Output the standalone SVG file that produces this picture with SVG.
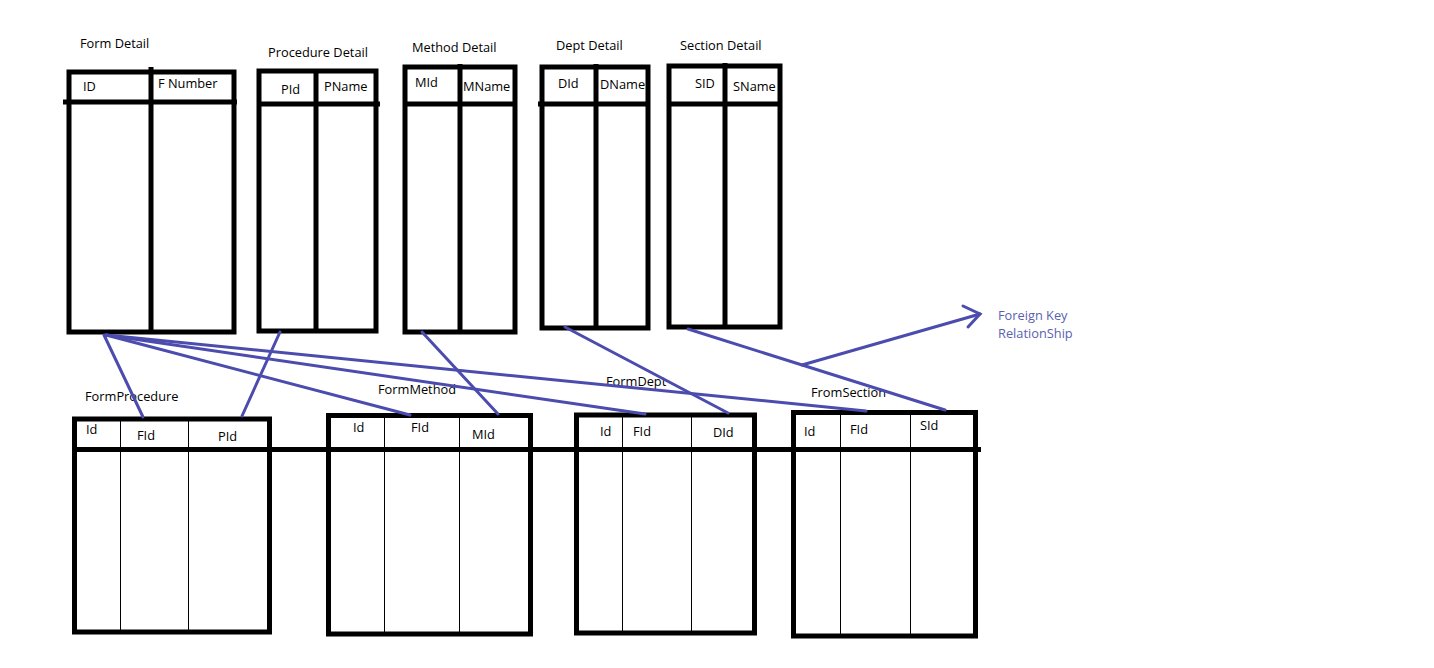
<svg xmlns="http://www.w3.org/2000/svg" width="1434" height="668" viewBox="0 0 1434 668">
<style>
.box{fill:none;stroke:#000;stroke-width:5}
.thick{stroke:#000;stroke-width:5;fill:none}
.thin{stroke:#000;stroke-width:1;fill:none}
.t{font-family:"Open Sans","Liberation Sans",sans-serif;font-size:12.8px;fill:#000}
.fk{font-family:"Open Sans","Liberation Sans",sans-serif;font-size:12.8px;fill:#5a5fb0}
.c{stroke:#4b4cae;stroke-width:3;fill:none;stroke-linecap:round}
</style>
<rect width="1434" height="668" fill="#fff"/>
<g id="form-detail">
<text class="t" x="80" y="48">Form Detail</text>
<rect class="box" x="69" y="72" width="165" height="260"/>
<line class="thick" x1="63" y1="102" x2="237" y2="102"/>
<line class="thick" x1="151" y1="67" x2="151" y2="332"/>
<text class="t" x="83" y="91">ID</text>
<text class="t" x="158" y="88">F Number</text>
</g>
<g id="procedure-detail">
<text class="t" x="268" y="57">Procedure Detail</text>
<rect class="box" x="259" y="71" width="117" height="260"/>
<line class="thick" x1="257" y1="104" x2="380" y2="104"/>
<line class="thick" x1="316" y1="71" x2="316" y2="331"/>
<text class="t" x="281" y="94">PId</text>
<text class="t" x="324" y="91">PName</text>
</g>
<g id="method-detail">
<text class="t" x="412" y="52">Method Detail</text>
<rect class="box" x="405" y="67" width="110" height="265"/>
<line class="thick" x1="403" y1="104" x2="517" y2="104"/>
<line class="thick" x1="460" y1="64" x2="460" y2="332"/>
<text class="t" x="415" y="87">MId</text>
<text class="t" x="463" y="91">MName</text>
</g>
<g id="dept-detail">
<text class="t" x="556" y="50">Dept Detail</text>
<rect class="box" x="542" y="67" width="106" height="261"/>
<line class="thick" x1="538" y1="104" x2="650" y2="104"/>
<line class="thick" x1="596" y1="64" x2="596" y2="328"/>
<text class="t" x="558" y="88">DId</text>
<text class="t" x="600" y="89">DName</text>
</g>
<g id="section-detail">
<text class="t" x="680" y="50">Section Detail</text>
<rect class="box" x="669" y="66" width="111" height="261"/>
<line class="thick" x1="667" y1="104" x2="782" y2="104"/>
<line class="thick" x1="725" y1="63" x2="725" y2="327"/>
<text class="t" x="695" y="88">SID</text>
<text class="t" x="733" y="91">SName</text>
</g>
<line class="thick" x1="72" y1="449.5" x2="981" y2="449.5"/>
<g id="form-procedure">
<text class="t" x="85" y="401">FormProcedure</text>
<rect class="box" x="74.5" y="419" width="195" height="213"/>
<line class="thin" x1="120.5" y1="419" x2="120.5" y2="632"/>
<line class="thin" x1="188.5" y1="419" x2="188.5" y2="632"/>
<text class="t" x="86" y="434">Id</text>
<text class="t" x="137" y="440">FId</text>
<text class="t" x="218" y="441">PId</text>
</g>
<g id="form-method">
<text class="t" x="378" y="394">FormMethod</text>
<rect class="box" x="328.5" y="415.5" width="202" height="218.5"/>
<line class="thin" x1="384.5" y1="416" x2="384.5" y2="634"/>
<line class="thin" x1="459.5" y1="416" x2="459.5" y2="634"/>
<text class="t" x="353" y="432">Id</text>
<text class="t" x="411" y="432">FId</text>
<text class="t" x="472" y="439">MId</text>
</g>
<g id="form-dept">
<text class="t" x="606" y="386">FormDept</text>
<rect class="box" x="576.5" y="415" width="178" height="218"/>
<line class="thin" x1="622.5" y1="415" x2="622.5" y2="633"/>
<line class="thin" x1="691.5" y1="415" x2="691.5" y2="633"/>
<text class="t" x="600" y="436">Id</text>
<text class="t" x="633" y="436">FId</text>
<text class="t" x="713" y="437">DId</text>
</g>
<g id="from-section">
<text class="t" x="811" y="397">FromSection</text>
<rect class="box" x="793.5" y="412.5" width="182" height="223.5"/>
<line class="thin" x1="840.5" y1="413" x2="840.5" y2="636"/>
<line class="thin" x1="910.5" y1="413" x2="910.5" y2="636"/>
<text class="t" x="804" y="436">Id</text>
<text class="t" x="850" y="434">FId</text>
<text class="t" x="920" y="430">SId</text>
</g>
<g id="connectors">
<line class="c" x1="104" y1="335" x2="143" y2="417"/>
<line class="c" x1="106" y1="335" x2="410" y2="415"/>
<line class="c" x1="106" y1="335" x2="645" y2="414"/>
<line class="c" x1="106" y1="335" x2="866" y2="411"/>
<line class="c" x1="280" y1="332" x2="242" y2="416"/>
<line class="c" x1="422" y1="332" x2="498" y2="414"/>
<line class="c" x1="565" y1="327" x2="728" y2="413"/>
<line class="c" x1="688" y1="329" x2="945" y2="410"/>
<line class="c" x1="802" y1="365" x2="980" y2="314"/>
<polyline class="c" points="963,306 980,314 968,327"/>
</g>
<g id="legend">
<text class="fk" x="998" y="320">Foreign Key</text>
<text class="fk" x="998" y="338">RelationShip</text>
</g>
</svg>
